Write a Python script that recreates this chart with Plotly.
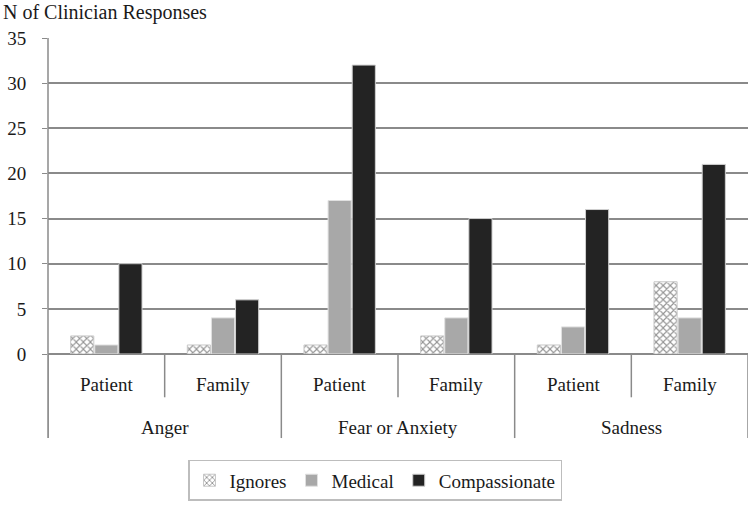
import plotly.graph_objects as go

# data
emotions = ["Anger", "Fear or Anxiety", "Sadness"]
speakers = ["Patient", "Family"]
series = ["Ignores", "Medical", "Compassionate"]
ignores = [2, 1, 1, 2, 1, 8]
medical = [1, 4, 17, 4, 3, 4]
compassionate = [10, 6, 32, 15, 16, 21]

FONT = "Liberation Serif"
GRID = "#8a8a8a"

x = list(range(len(emotions) * len(speakers)))

fig = go.Figure()
fig.add_trace(go.Bar(
    x=x, y=ignores, name=series[0],
    marker=dict(color="white", line=dict(color="#c8c8c8", width=1),
                pattern=dict(shape="x", fgcolor="#2a2a2a", bgcolor="white", size=5, solidity=0.4)),
))
fig.add_trace(go.Bar(
    x=x, y=medical, name=series[1],
    marker=dict(color="#a8a8a8", line=dict(color="#e0e0e0", width=1)),
))
fig.add_trace(go.Bar(
    x=x, y=compassionate, name=series[2],
    marker=dict(color="#232323", line=dict(color="#d0d0d0", width=1)),
))

# category dividers and labels below the axis
shapes = []
annotations = []
for i in range(len(x) + 1):
    major = i % len(speakers) == 0
    shapes.append(dict(type="line", xref="x", yref="paper",
                       x0=i - 0.5, x1=i - 0.5, y0=0, y1=-0.266 if major else -0.137,
                       line=dict(color=GRID, width=1.5)))
for i in x:
    annotations.append(dict(x=i, y=-0.097, xref="x", yref="paper", yanchor="middle",
                            showarrow=False, text=speakers[i % len(speakers)]))
for j, e in enumerate(emotions):
    annotations.append(dict(x=j * len(speakers) + (len(speakers) - 1) / 2, y=-0.232,
                            xref="x", yref="paper", yanchor="middle",
                            showarrow=False, text=e))
# left axis line full height
shapes.append(dict(type="line", xref="paper", yref="paper", x0=0, x1=0, y0=-0.266, y1=1,
                   line=dict(color=GRID, width=1.5)))

annotations.append(dict(x=0, y=1, xref="paper", yref="paper", xanchor="left", yanchor="top",
                        xshift=-47, yshift=39, showarrow=False,
                        text="N of Clinician Responses", font=dict(size=20)))

fig.update_layout(
    width=750, height=506,
    margin=dict(l=48, r=2, t=38, b=152, autoexpand=False),
    paper_bgcolor="white", plot_bgcolor="white",
    font=dict(family=FONT, size=19, color="#1a1a1a"),
    barmode="group", bargap=0.38, bargroupgap=0.04,
    shapes=shapes, annotations=annotations,
    showlegend=True,
    legend=dict(orientation="h", xref="container", x=0.5, xanchor="center",
                y=-0.335, yanchor="top",
                bordercolor="#bdbdbd", borderwidth=1.5, font=dict(size=19),
                itemwidth=30),
)
fig.update_xaxes(range=[-0.5, len(x) - 0.5], showticklabels=False, showgrid=False,
                 zeroline=False, showline=False, ticks="", automargin=False)
fig.update_yaxes(range=[0, 35], dtick=5, showgrid=True, gridcolor=GRID, gridwidth=1.5,
                 zeroline=True, zerolinecolor=GRID, zerolinewidth=1.5,
                 showline=False, ticks="outside", ticklen=5, tickcolor=GRID,
                 ticklabelstandoff=12, automargin=False)

fig.write_html("out.html", config={"displayModeBar": False},
               post_script="document.body.style.margin='0';")
